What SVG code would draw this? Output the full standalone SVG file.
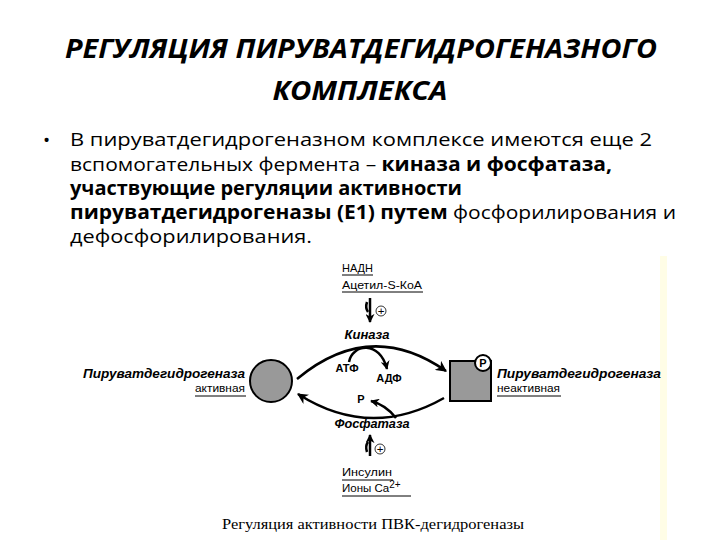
<svg xmlns="http://www.w3.org/2000/svg" width="720" height="540" viewBox="0 0 720 540">
<defs>
<marker id="ah" viewBox="0 0 10 10" refX="9" refY="5" markerWidth="11" markerHeight="11" markerUnits="userSpaceOnUse" orient="auto"><path d="M0,0 L10,5 L0,10 L3,5 Z" fill="#000"/></marker>
<marker id="ahs" viewBox="0 0 10 10" refX="9" refY="5" markerWidth="9" markerHeight="9" markerUnits="userSpaceOnUse" orient="auto"><path d="M0,0 L10,5 L0,10 L3,5 Z" fill="#000"/></marker>
</defs>
<style>
.title{font-family:"Open Sans","Liberation Sans",sans-serif;font-weight:bold;font-style:italic;font-size:26px;fill:#000}
.body{font-family:"Open Sans","Liberation Sans",sans-serif;font-size:19px;fill:#000}
.b{font-weight:bold}
.lab{font-family:"Liberation Sans",Arial,sans-serif;font-size:11.5px;fill:#000}
.enz{font-family:"Liberation Sans",Arial,sans-serif;font-size:12.5px;font-weight:bold;font-style:italic;fill:#000}
.sm{font-family:"Liberation Sans",Arial,sans-serif;font-size:11px;font-weight:bold;fill:#000}
.ln{stroke:#000;stroke-width:2.5;fill:none}
.ul{stroke:#000;stroke-width:1}
.cap{font-family:"Liberation Serif","Times New Roman",serif;font-size:15px;fill:#000}
</style>
<rect width="720" height="540" fill="#fff"/>
<rect x="660" y="256" width="7" height="284" fill="#fffde6"/>
<g id="title">
<text class="title" x="361" y="58" text-anchor="middle" textLength="592" lengthAdjust="spacingAndGlyphs">РЕГУЛЯЦИЯ ПИРУВАТДЕГИДРОГЕНАЗНОГО</text>
<text class="title" x="360" y="100" text-anchor="middle" textLength="175" lengthAdjust="spacingAndGlyphs">КОМПЛЕКСА</text>
</g>
<g id="bullet">
<text class="body" x="43" y="147" font-size="24">•</text>
<text class="body" x="70" y="146" textLength="582" lengthAdjust="spacingAndGlyphs">В пируватдегидрогеназном комплексе имеются еще 2</text>
<text class="body" x="70" y="171" textLength="542" lengthAdjust="spacingAndGlyphs">вспомогательных фермента – <tspan class="b">киназа и фосфатаза,</tspan></text>
<text class="body b" x="70" y="195" textLength="392" lengthAdjust="spacingAndGlyphs">участвующие регуляции активности</text>
<text class="body" x="70" y="219" textLength="606" lengthAdjust="spacingAndGlyphs"><tspan class="b">пируватдегидрогеназы (Е1) путем</tspan> фосфорилирования и</text>
<text class="body" x="70" y="243" textLength="242" lengthAdjust="spacingAndGlyphs">дефосфорилирования.</text>
</g>
<g id="activators">
<text class="lab" x="342" y="272" textLength="31" lengthAdjust="spacingAndGlyphs">НАДН</text>
<line class="ul" x1="342" y1="275" x2="373" y2="275"/>
<text class="lab" x="342" y="289" textLength="80" lengthAdjust="spacingAndGlyphs">Ацетил-S-КоА</text>
<line class="ul" x1="342" y1="292" x2="423" y2="292"/>
<circle cx="381" cy="311" r="5" fill="#fff" stroke="#000" stroke-width="0.8"/>
<text class="lab" x="381" y="314.5" text-anchor="middle" font-size="9">+</text>
</g>
<g id="kinase"><text class="enz" x="367" y="339" text-anchor="middle" textLength="45" lengthAdjust="spacingAndGlyphs">Киназа</text></g>
<g id="active">
<text class="enz" x="245" y="378" text-anchor="end" textLength="162" lengthAdjust="spacingAndGlyphs">Пируватдегидрогеназа</text>
<text class="lab" x="245" y="392" text-anchor="end" textLength="50" lengthAdjust="spacingAndGlyphs">активная</text>
<line class="ul" x1="195" y1="396" x2="246" y2="396"/>
<circle cx="271" cy="381" r="21" fill="#999" stroke="#000" stroke-width="2"/>
</g>
<g id="inactive">
<rect x="450" y="361" width="41" height="40" fill="#999" stroke="#000" stroke-width="2"/>
<circle cx="483" cy="363" r="8" fill="#fff" stroke="#000" stroke-width="2"/>
<text class="sm" x="483" y="367" text-anchor="middle">P</text>
<text class="enz" x="497" y="378" textLength="164" lengthAdjust="spacingAndGlyphs">Пируватдегидрогеназа</text>
<text class="lab" x="497" y="392" textLength="63" lengthAdjust="spacingAndGlyphs">неактивная</text>
<line class="ul" x1="497" y1="396" x2="561" y2="396"/>
</g>
<g id="small-labels">
<text class="sm" x="347" y="372" text-anchor="middle">АТФ</text>
<text class="sm" x="389" y="382" text-anchor="middle">АДФ</text>
<text class="sm" x="361" y="403" text-anchor="middle">P</text>
</g>
<g id="phosphatase"><text class="enz" x="372" y="428" text-anchor="middle" textLength="75" lengthAdjust="spacingAndGlyphs">Фосфатаза</text></g>
<g id="inhibitors">
<circle cx="380" cy="449" r="5" fill="#fff" stroke="#000" stroke-width="0.8"/>
<text class="lab" x="380" y="452.5" text-anchor="middle" font-size="9">+</text>
<text class="lab" x="342" y="476" textLength="50" lengthAdjust="spacingAndGlyphs">Инсулин</text>
<line class="ul" x1="342" y1="480" x2="393" y2="480"/>
<text class="lab" x="342" y="492">Ионы Ca<tspan dy="-4" font-size="10">2+</tspan></text>
<line class="ul" x1="342" y1="496" x2="411" y2="496"/>
</g>
<g id="connectors">
<path class="ln" d="M297 379 Q370 318 446 371" marker-end="url(#ah)"/>
<path class="ln" d="M444 398 Q370 440 298 394" marker-end="url(#ah)"/>
<path class="ln" d="M349 362 C352 344 380 340 387 369" marker-end="url(#ahs)" stroke-width="2"/>
<path class="ln" d="M396 418 Q386 405 371 401" marker-end="url(#ahs)" stroke-width="2"/>
<path class="ln" d="M370 298 L370 322" marker-end="url(#ahs)" stroke-width="1.6"/>
<path class="ln" d="M367 302 Q365 308 368 312" stroke-width="1"/>
<path class="ln" d="M370 456 L370 435" marker-end="url(#ahs)" stroke-width="1.6"/>
<path class="ln" d="M367 452 Q365 446 368 442" stroke-width="1"/>
</g>
<g id="caption"><text class="cap" x="222" y="529" textLength="302" lengthAdjust="spacingAndGlyphs">Регуляция активности ПВК-дегидрогеназы</text></g>
</svg>
